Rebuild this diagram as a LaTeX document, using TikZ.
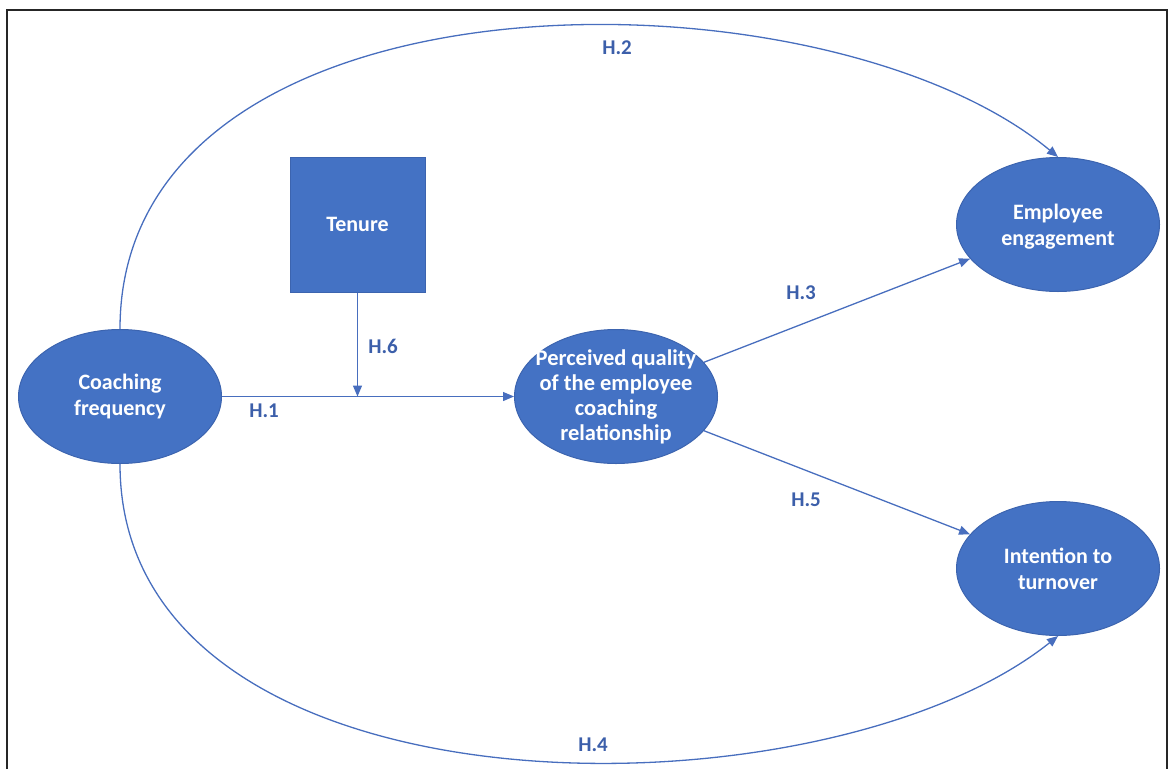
\documentclass[tikz,border=0pt]{standalone}
\usepackage{fontspec}
\setmainfont{Carlito}
\usetikzlibrary{shapes.geometric, arrows.meta}
\definecolor{boxblue}{RGB}{68, 114, 196}
\definecolor{edgeblue}{RGB}{60, 100, 175}
\definecolor{lineblue}{RGB}{72, 110, 190}
\definecolor{labelblue}{RGB}{60, 95, 170}

\begin{document}
\begin{tikzpicture}[
	x=1pt, y=-1pt,
	>={Triangle[length=11pt, width=9pt]},
	% Styles for the constructs
	factor/.style={ellipse, draw=edgeblue, line width=1pt, fill=boxblue, minimum width=203pt, minimum height=134pt, inner sep=0pt},
	moderator/.style={rectangle, draw=edgeblue, line width=1pt, fill=boxblue, minimum size=135pt, inner sep=0pt},
	factortext/.style={text=white, font=\bfseries\fontsize{22}{26.5}\selectfont, align=center},
	% Styles for paths and hypothesis labels
	link/.style={->, draw=lineblue, line width=1.3pt},
	hyplabel/.style={text=labelblue, font=\bfseries\fontsize{21}{25}\selectfont}
	]
	\useasboundingbox (0, 0) rectangle (1170, 769);
	
	% Frame (bottom edge lies outside the picture)
	\draw[line width=2pt, black!85] (7, 769) -- (7, 10) -- (1167, 10) -- (1167, 769);
	
	% ==========================================
	% CONSTRUCTS
	% ==========================================
	\node[factor] (coach) at (120, 396.5) {};
	\node[factortext] (coachtext) at (coach) {Coaching\\frequency};
	
	\node[moderator] (tenure) at (357.5, 224.5) {};
	\node[factortext] (tenuretext) at (tenure) {Tenure};
	
	\node[factor] (qual) at (616, 396.5) {};
	\node[factortext, font=\bfseries\fontsize{22.5}{25}\selectfont] (qualtext) at (qual) {Perceived quality\\of the employee\\coaching\\relationship};
	
	\node[factor] (engage) at (1058, 224.5) {};
	\node[factortext] (engagetext) at (1058, 226.5) {Employee\\engagement};
	
	\node[factor] (turnover) at (1058, 568.5) {};
	\node[factortext] (turnovertext) at (1058, 569) {Intention to\\turnover};
	
	% ==========================================
	% HYPOTHESISED PATHS
	% ==========================================
	\draw[link] (coach) -- (qual);
	\draw[link] (tenure.south) -- (tenure.south |- coach.east);
	\draw[link] (qual) -- (engage);
	\draw[link] (qual) -- (turnover);
	\draw[link] (coach.north) .. controls (120, -40) and (820, -40) .. (engage.north);
	\draw[link] (coach.south) .. controls (120, 826) and (820, 826) .. (turnover.south);
	
	% Hypothesis labels
	\node[hyplabel] (h1) at (264, 411) {H.1};
	\node[hyplabel] (h2) at (617, 48) {H.2};
	\node[hyplabel] (h3) at (801, 293) {H.3};
	\node[hyplabel] (h4) at (593, 745) {H.4};
	\node[hyplabel] (h5) at (806, 500) {H.5};
	\node[hyplabel] (h6) at (383, 346) {H.6};
	
\end{tikzpicture}
\end{document}
